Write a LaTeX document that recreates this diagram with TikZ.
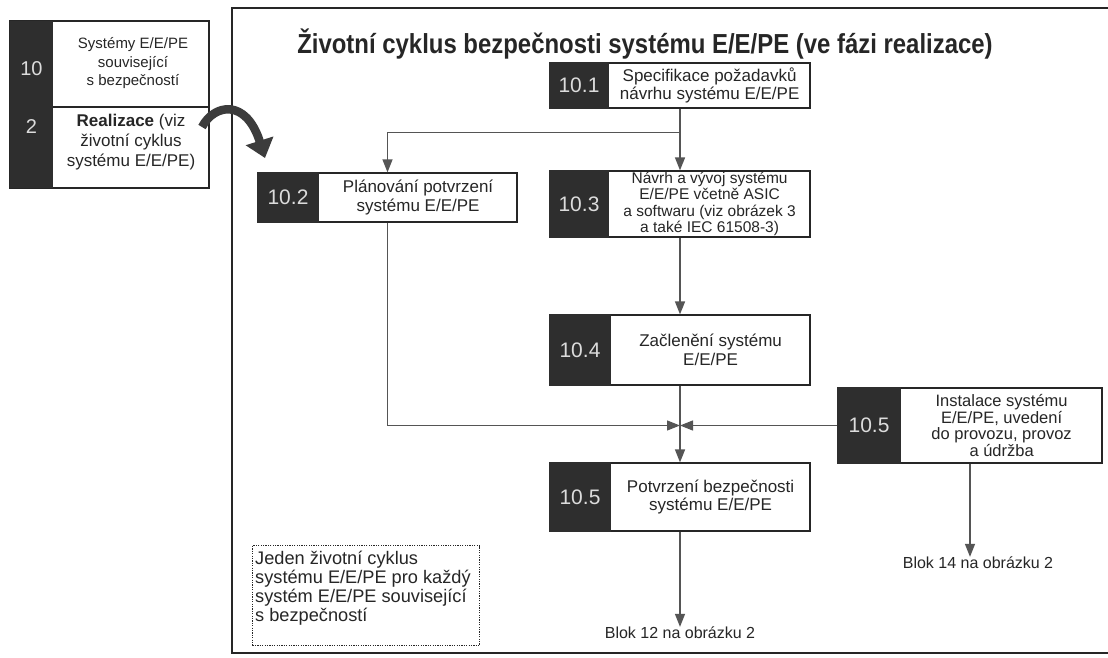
\documentclass[tikz,border=0pt]{standalone}
\usepackage{fontspec}
\setmainfont{Liberation Sans}
\newfontfamily\titlefont[FakeStretch=0.87]{Liberation Sans}
\usetikzlibrary{arrows.meta,calc}
\definecolor{cell}{HTML}{2E2E2E}
\definecolor{ink}{HTML}{262626}
\definecolor{wire}{HTML}{555555}
\definecolor{numc}{HTML}{DCDCDC}
\definecolor{bigarrow}{HTML}{3C3C3C}
\begin{document}
\begin{tikzpicture}[x=1pt,y=-1pt,
  box/.style={draw=ink, line width=1.2pt, fill=white, inner sep=0pt},
  numcell/.style={draw=cell, fill=cell, line width=1.2pt, inner sep=0pt, text=numc,
     font=\fontsize{21}{21}\selectfont},
  btxt/.style={text=ink, align=center, inner sep=0pt, font=\fontsize{17}{18.5}\selectfont},
  smalltxt/.style={text=ink, align=center, inner sep=0pt, font=\fontsize{15.5}{16.5}\selectfont},
  wire/.style={draw=wire, line width=1.3pt},
  arr/.style={wire, -{Triangle[length=13pt,width=10pt]}},
  lbl/.style={text=ink, inner sep=0pt, font=\fontsize{16}{16}\selectfont},
  notebox/.style={draw=ink, line width=1pt, dash pattern=on 1.2pt off 1.2pt, inner sep=0pt},
  notetxt/.style={text=ink, align=left, inner sep=0pt, font=\fontsize{18.2}{19}\selectfont}
]
\useasboundingbox (0,0) rectangle (1108,657);
\fill[white] (0,0) rectangle (1108,657);

% frame
\draw[ink, line width=1.3pt] (1108,8) -- (232,8) -- (232,653) -- (1108,653);

% title
\node[text=ink, inner sep=0pt, font=\titlefont\bfseries\fontsize{27.5}{27.5}\selectfont] (title) at (645,44)
  {Životní cyklus bezpečnosti systému E/E/PE (ve fázi realizace)};

% left box
\node[box, minimum width=199pt, minimum height=86pt] (lb1) at (109.5,64) {};
\node[box, minimum width=199pt, minimum height=81pt] (lb2) at (109.5,147.5) {};
\fill[cell] (10,21) rectangle (53,188);
\node[text=numc, inner sep=0pt, font=\fontsize{20}{20}\selectfont] (n10) at (31.5,69) {10};
\node[text=numc, inner sep=0pt, font=\fontsize{20}{20}\selectfont] (n2) at (31.5,127) {2};
\node[btxt, font=\fontsize{15}{18.5}\selectfont] (t10) at (133,63.5) {Systémy E/E/PE\\související\\s bezpečností};
\node[btxt, font=\fontsize{17}{20}\selectfont] (t2) at (131,142) {\textbf{Realizace} (viz\\životní cyklus\\systému E/E/PE)};

% curved arrow
\draw[bigarrow, line width=8.5pt, -{Triangle[length=18pt,width=28pt]}]
  (202,127) .. controls (214,104) and (246,98) .. (265,158);

% 10.1
\node[box, minimum width=260pt, minimum height=45pt] (b101) at (680,85.5) {};
\node[numcell, minimum width=58pt, minimum height=45pt, anchor=west] (n101) at (b101.west) {10.1};
\node[btxt] (t101) at ($(n101.east)!0.5!(b101.east)$) {Specifikace požadavků\\návrhu systému E/E/PE};

% 10.2
\node[box, minimum width=259pt, minimum height=49pt] (b102) at (387.5,197.5) {};
\node[numcell, minimum width=60pt, minimum height=49pt, anchor=west] (n102) at (b102.west) {10.2};
\node[btxt] (t102) at ($(n102.east)!0.5!(b102.east)$) {Plánování potvrzení\\systému E/E/PE};

% 10.3
\node[box, minimum width=260pt, minimum height=66pt] (b103) at (680,204) {};
\node[numcell, minimum width=58pt, minimum height=66pt, anchor=west] (n103) at (b103.west) {10.3};
\node[smalltxt] (t103) at ($(n103.east)!0.5!(b103.east)$) {Návrh a vývoj systému\\E/E/PE včetně ASIC\\a softwaru (viz obrázek 3\\a také IEC 61508-3)};

% 10.4
\node[box, minimum width=260pt, minimum height=70pt] (b104) at (680,350) {};
\node[numcell, minimum width=60pt, minimum height=70pt, anchor=west] (n104) at (b104.west) {10.4};
\node[btxt] (t104) at ($(n104.east)!0.5!(b104.east)$) {Začlenění systému\\E/E/PE};

% 10.5 installation
\node[box, minimum width=264pt, minimum height=75pt] (b105a) at (970,425.5) {};
\node[numcell, minimum width=62pt, minimum height=75pt, anchor=west] (n105a) at (b105a.west) {10.5};
\node[btxt, font=\fontsize{16.5}{16.5}\selectfont] (t105a) at ($(n105a.east)!0.5!(b105a.east)$) {Instalace systému\\E/E/PE, uvedení\\do provozu, provoz\\a údržba};

% 10.5 validation
\node[box, minimum width=260pt, minimum height=68pt] (b105b) at (680,497) {};
\node[numcell, minimum width=60pt, minimum height=68pt, anchor=west] (n105b) at (b105b.west) {10.5};
\node[btxt] (t105b) at ($(n105b.east)!0.5!(b105b.east)$) {Potvrzení bezpečnosti\\systému E/E/PE};

% labels
\node[lbl] (blok12) at (680,633) {Blok 12 na obrázku 2};
\node[lbl] (blok14) at (978,563) {Blok 14 na obrázku 2};

% note
\node[notebox, anchor=north west, minimum width=227pt, minimum height=100pt] (nt) at (252,545) {};
\node[notetxt, anchor=north west] (ntt) at (255,551)
  {Jeden životní cyklus\\systému E/E/PE pro každý\\systém E/E/PE související\\s bezpečností};

% connectors
\coordinate (s1) at ($(b101.south)+(0,24)$);
\coordinate (j) at (b101.south |- b105a.west);
\draw[arr] (b101.south) -- (b103.north);
\draw[arr] (s1) -| (b102.north);
\draw[arr] (b103.south) -- (b104.north);
\draw[arr] (b104.south) -- (b105b.north);
\draw[arr] (b102.south) |- (j);
\draw[arr] (b105a.west) -- (j);
\draw[arr] (b105b.south) -- (blok12.north);
\draw[arr] (b105a.south) -- (b105a.south |- blok14.north);
\end{tikzpicture}
\end{document}
